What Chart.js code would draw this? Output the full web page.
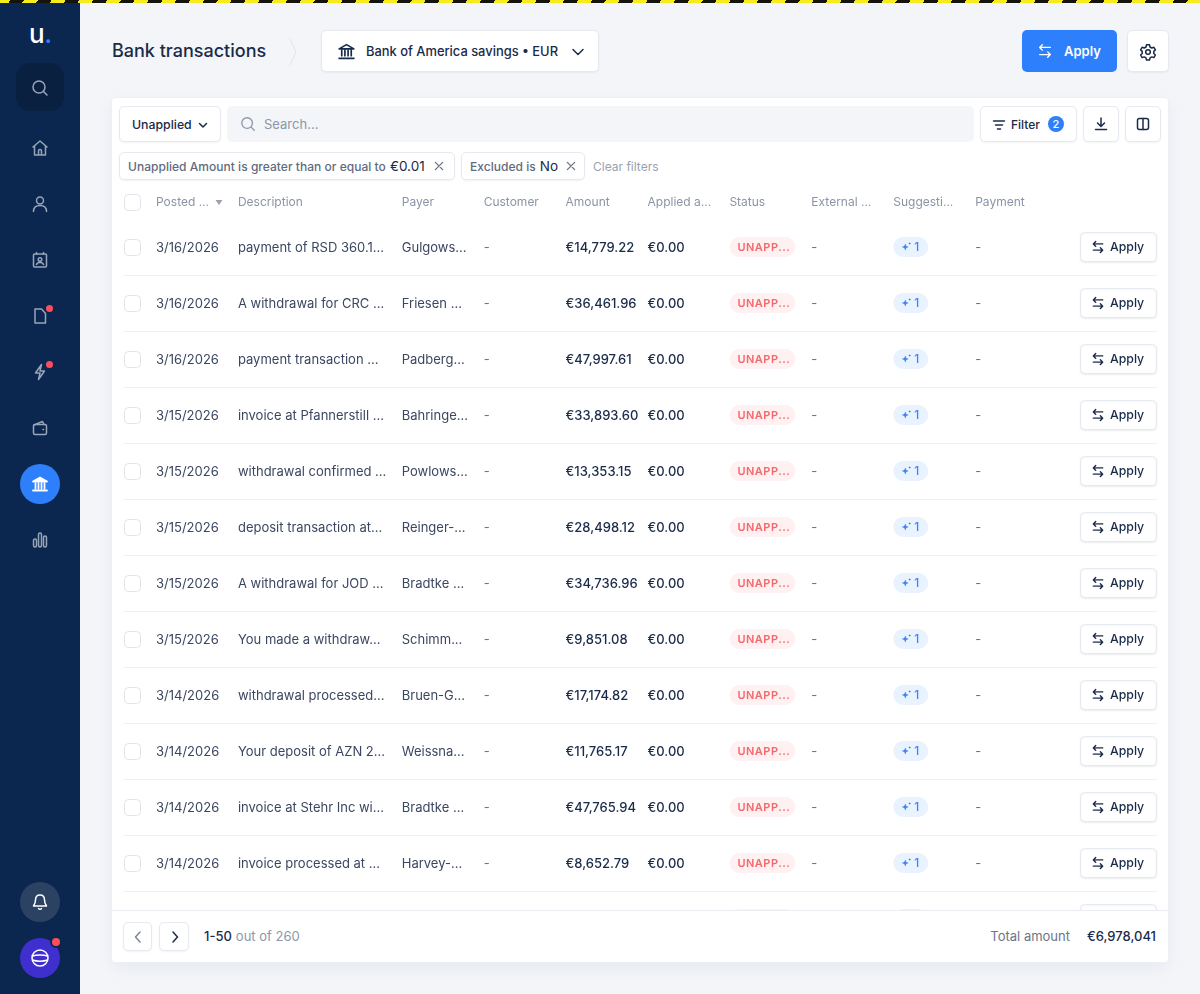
<!DOCTYPE html>
<html lang="en">
<head>
<meta charset="utf-8">
<title>Bank transactions</title>
<script src="https://cdn.jsdelivr.net/npm/chart.js@4"></script>
<style>
  * { box-sizing: border-box; }
  html, body { margin: 0; height: 994px; overflow: hidden; }
  body { width: 1200px; position: relative; background: #f3f5f9; font: 13px Inter, sans-serif; color: #1a2b4a; }
  .abs { position: absolute; }
  .row { display: flex; align-items: center; white-space: nowrap; }
  .box { background: #fff; border: 1px solid #e6e9ef; border-radius: 5px; box-shadow: 0 1px 2px rgba(26,43,74,.06); }
  svg { display: block; fill: none; stroke: currentColor; stroke-width: 1.5; stroke-linecap: round; stroke-linejoin: round; }
  #stripe { left: 0; top: 0; width: 1200px; height: 3px; z-index: 5;
    background: repeating-linear-gradient(-60deg, #f6ec1c 0 12px, #14130c 12px 24px); }
  #side { left: 0; top: 0; width: 80px; height: 994px; background: #0b274f; color: #98a5b9; }
  .ico { position: absolute; left: 31px; width: 18px; height: 18px; }
  .dot { position: absolute; width: 7px; height: 7px; border-radius: 50%; background: #ff4d5a; }
  #card { left: 112px; top: 98px; width: 1056px; height: 864px; background: #fff; border-radius: 4px;
    box-shadow: 0 0 0 1px #eceff4, 0 6px 16px rgba(26,43,74,.06); overflow: hidden; }
  #grid { position: absolute; left: 0; top: 88px; }
  #foot { left: 0; top: 812px; width: 1056px; height: 52px; background: #fff; border-top: 1px solid #e9ecf1; }
  .chip { color: #5f6b80; font-size: 12px; font-weight: 500; height: 28px; padding-left: 8px; letter-spacing: .03px; }
  .chip b { font-weight: 400; font-size: 13.500px; color: #1a2b4a; margin-left: 4px; }
</style>
</head>
<body>
<div id="stripe" class="abs"></div>

<div id="side" class="abs">
  <div class="abs" style="left:29px;top:18px;font-size:26px;font-weight:500;color:#fff;line-height:32px;letter-spacing:-.5px">u<span style="color:#2e7ffb">.</span></div>
  <div class="abs" style="left:16px;top:63px;width:48px;height:48px;border-radius:14px;background:#0a2040"></div>
  <svg class="ico" style="top:79px" viewBox="0 0 18 18"><circle cx="8" cy="8" r="6"/><path d="M12.5 12.5 16 16"/></svg>
  <svg class="ico" style="top:139px" viewBox="0 0 18 18"><path d="M2 8 9 2l7 6M3.500 7v9h11V7M7.500 16v-4a1.500 1.500 0 0 1 3 0v4"/></svg>
  <svg class="ico" style="top:195px" viewBox="0 0 18 18"><circle cx="9" cy="5.500" r="3.500"/><path d="M2.500 16.500c0-4 2.500-6 6.500-6s6.500 2 6.500 6"/></svg>
  <svg class="ico" style="top:251px" viewBox="0 0 18 18"><rect x="2.500" y="3" width="13" height="13" rx="1"/><circle cx="9" cy="8.500" r="1.800"/><path d="M5.500 13.500c.5-1.500 2-2 3.500-2s3 .5 3.500 2M5.500 1.500V3M12.500 1.500V3"/></svg>
  <svg class="ico" style="top:307px" viewBox="0 0 18 18"><path d="M4 2h6.500L14.500 6.500V16H4z"/></svg>
  <div class="dot" style="left:46px;top:305px"></div>
  <svg class="ico" style="top:363px" viewBox="0 0 18 18"><path d="M10.500 1.500 4.500 10H9l-1.500 6.500L13.500 8H9z"/></svg>
  <div class="dot" style="left:46px;top:361px"></div>
  <svg class="ico" style="top:419px" viewBox="0 0 18 18"><rect x="2.500" y="5.500" width="13" height="10" rx="1.500"/><path d="M3 6 11.500 2.500 13 5.500M12 10.500h.5"/></svg>
  <div class="abs" style="left:20px;top:464px;width:40px;height:40px;border-radius:50%;background:#2e7ffb"></div>
  <svg class="ico" style="top:475px;color:#fff;stroke-width:1.800" viewBox="0 0 18 18"><path d="M2 6.500 9 2.500 16 6.500zM4.500 8.500v5M7.500 8.500v5M10.500 8.500v5M13.500 8.500v5M2 15.500h14" fill="#fff"/></svg>
  <svg class="ico" style="top:531px" viewBox="0 0 18 18"><rect x="2.500" y="8" width="3" height="8" rx="1.500"/><rect x="7.500" y="2" width="3" height="14" rx="1.500"/><rect x="12.500" y="5" width="3" height="11" rx="1.500"/></svg>
  <div class="abs" style="left:20px;top:882px;width:40px;height:40px;border-radius:50%;background:#2b4263"></div>
  <svg class="ico" style="top:893px;color:#fff" viewBox="0 0 18 18"><path d="M9 2c-3 0-4.500 2-4.500 5 0 3-1 4.500-2 6h13c-1-1.500-2-3-2-6 0-3-1.500-5-4.500-5zM7.500 15.500c.5 1 2.500 1 3 0"/></svg>
  <div class="abs" style="left:20px;top:938px;width:40px;height:40px;border-radius:50%;background:#3f2fcf"></div>
  <svg class="ico" style="top:949px;color:#fff" viewBox="0 0 18 18"><circle cx="9" cy="9" r="8"/><path d="M1.500 7c4-1.500 11-1.500 15 0M1.500 11c4 1.500 11 1.500 15 0"/></svg>
  <div class="abs" style="left:50px;top:936px;width:12px;height:12px;border-radius:50%;background:#ff4d5a;border:2px solid #0b274f"></div>
</div>

<div class="abs" style="left:112px;top:38px;font-size:18px;font-weight:500;line-height:26px">Bank transactions</div>
<svg class="abs" style="left:288px;top:38px;color:#e1e5eb;stroke-width:1" width="10" height="28" viewBox="0 0 10 28"><path d="M2 1 8 14 2 27"/></svg>
<div class="abs box row" style="left:321px;top:30px;width:278px;height:42px;font-weight:500;font-size:12.900px">
  <svg class="abs" style="left:15px;top:11px;stroke-width:1.600" width="19" height="19" viewBox="0 0 18 18"><path d="M2 6.500 9 2.500 16 6.500zM4.500 8v5M7.500 8v5M10.500 8v5M13.500 8v5M2 15.500h14"/></svg>
  <span class="abs" style="left:44px">Bank of America savings • EUR</span>
  <svg class="abs" style="left:249px;top:14px" width="14" height="14" viewBox="0 0 14 14"><path d="M2 4.500 7 9.500 12 4.500"/></svg>
</div>
<div class="abs row" style="left:1022px;top:30px;width:95px;height:42px;border-radius:5px;background:#2e7ffb;color:#fff;font-size:13px;font-weight:600">
  <svg class="abs" style="left:15px;top:13px" width="16" height="16" viewBox="0 0 18 18"><path d="M3 5h12M3 5l3-3M3 5l3 3M15 13H3M15 13l-3-3M15 13l-3 3"/></svg>
  <span class="abs" style="left:42px">Apply</span>
</div>
<div class="abs box" style="left:1127px;top:30px;width:42px;height:42px">
  <svg class="abs" style="left:11px;top:12px" width="18" height="18" viewBox="0 0 18 18"><circle cx="9" cy="9" r="2.300"/><path d="M7.500 1.800h3l.5 2.200 1.800 1 2.100-.7 1.500 2.600-1.600 1.500v2.100l1.600 1.500-1.500 2.600-2.100-.7-1.800 1-.5 2.200h-3l-.5-2.200-1.800-1-2.100.7-1.500-2.600 1.600-1.500V8.400L1.600 6.900l1.500-2.600 2.100.7 1.800-1z"/></svg>
</div>

<div id="card" class="abs">
  <canvas id="grid" width="1056" height="761"></canvas>

  <div class="abs box row" style="left:7px;top:8px;width:102px;height:36px;font-weight:500;font-size:12.300px"><span class="abs" style="left:12px">Unapplied</span>
    <svg class="abs" style="left:77px;top:12px" width="12" height="12" viewBox="0 0 12 12"><path d="M2.500 4.500 6 8l3.500-3.500"/></svg></div>
  <div class="abs row" style="left:115px;top:8px;width:747px;height:36px;border-radius:5px;background:#f3f5f9;color:#8e97a8">
    <svg class="abs" style="left:13px;top:10px" width="16" height="16" viewBox="0 0 18 18"><circle cx="8" cy="8" r="6"/><path d="M12.500 12.500 16 16"/></svg>
    <span class="abs" style="left:37px">Search...</span></div>
  <div class="abs box row" style="left:868px;top:8px;width:97px;height:36px;font-weight:500;font-size:12px">
    <svg class="abs" style="left:11px;top:11px" width="14" height="14" viewBox="0 0 14 14"><path d="M1.500 3h11M3.500 7h7M5.500 11h3"/></svg>
    <span class="abs" style="left:30px">Filter</span>
    <span class="abs" style="left:67px;top:9px;width:16px;height:16px;border-radius:50%;background:#2e7ffb;color:#fff;font-size:11px;text-align:center;line-height:16px">2</span></div>
  <div class="abs box" style="left:971px;top:8px;width:36px;height:36px">
    <svg class="abs" style="left:10px;top:10px" width="14" height="14" viewBox="0 0 14 14"><path d="M7 1v8M3.500 6 7 9.500 10.500 6M1.500 12.500h11"/></svg></div>
  <div class="abs box" style="left:1013px;top:8px;width:36px;height:36px">
    <svg class="abs" style="left:10px;top:10px" width="14" height="14" viewBox="0 0 14 14"><rect x="1.500" y="1.500" width="11" height="11" rx="2"/><path d="M7 1.500v11"/></svg></div>

  <div class="abs box row chip" style="left:7px;top:54px;width:336px">Unapplied Amount is greater than or equal to<b>€0.01</b>
    <svg class="abs" style="left:314px;top:8px;color:#6b7587" width="10" height="10" viewBox="0 0 11 11"><path d="M1.500 1.500l8 8M9.500 1.500l-8 8"/></svg></div>
  <div class="abs box row chip" style="left:349px;top:54px;width:124px">Excluded is<b>No</b>
    <svg class="abs" style="left:104px;top:8px;color:#6b7587" width="10" height="10" viewBox="0 0 11 11"><path d="M1.500 1.500l8 8M9.500 1.500l-8 8"/></svg></div>
  <div class="abs row" style="left:481px;top:54px;height:28px;font-size:12px;color:#9aa2b1">Clear filters</div>

  <div id="foot" class="abs">
    <div class="abs box" style="left:11px;top:11px;width:29px;height:29px;color:#7d879a">
      <svg class="abs" style="left:7px;top:7px" width="14" height="14" viewBox="0 0 14 14"><path d="M9 2 4.500 7 9 12"/></svg></div>
    <div class="abs box" style="left:47px;top:11px;width:30px;height:29px">
      <svg class="abs" style="left:8px;top:7px" width="14" height="14" viewBox="0 0 14 14"><path d="M5 2 9.500 7 5 12"/></svg></div>
    <div class="abs row" style="left:92px;top:15px;height:20px;font-weight:500">1-50<span style="color:#8e97a8;font-weight:400;margin-left:4px">out of 260</span></div>
    <div class="abs row" style="right:12px;top:15px;height:20px;color:#6b7587">Total amount<span style="color:#1a2b4a;font-weight:500;margin-left:17px">€6,978,041</span></div>
  </div>
</div>

<script>
// tabela como grade de categorias: colunas no x, linhas no y
const COLUMNS = ['Posted ...', 'Description', '', 'Payer', 'Customer', 'Amount', 'Applied a...', 'Status', 'External ...', 'Suggesti...', 'Payment', ' ', 'Actions'];
const ROW_IDS = ['r1', 'r2', 'r3', 'r4', 'r5', 'r6', 'r7', 'r8', 'r9', 'r10', 'r11', 'r12', 'r13'];

const dates = ['3/16/2026', '3/16/2026', '3/16/2026', '3/15/2026', '3/15/2026', '3/15/2026', '3/15/2026', '3/15/2026', '3/14/2026', '3/14/2026', '3/14/2026', '3/14/2026'];
const descriptions = ['payment of RSD 360.1...', 'A withdrawal for CRC ...', 'payment transaction ...', 'invoice at Pfannerstill ...', 'withdrawal confirmed ...', 'deposit transaction at...', 'A withdrawal for JOD ...', 'You made a withdraw...', 'withdrawal processed...', 'Your deposit of AZN 2...', 'invoice at Stehr Inc wi...', 'invoice processed at ...'];
const payers = ['Gulgows...', 'Friesen ...', 'Padberg...', 'Bahringe...', 'Powlows...', 'Reinger-...', 'Bradtke ...', 'Schimm...', 'Bruen-G...', 'Weissna...', 'Bradtke ...', 'Harvey-...'];
const customers = ['-', '-', '-', '-', '-', '-', '-', '-', '-', '-', '-', '-'];
const amounts = ['€14,779.22', '€36,461.96', '€47,997.61', '€33,893.60', '€13,353.15', '€28,498.12', '€34,736.96', '€9,851.08', '€17,174.82', '€11,765.17', '€47,765.94', '€8,652.79'];
const applied = ['€0.00', '€0.00', '€0.00', '€0.00', '€0.00', '€0.00', '€0.00', '€0.00', '€0.00', '€0.00', '€0.00', '€0.00'];
const statuses = ['UNAPP...', 'UNAPP...', 'UNAPP...', 'UNAPP...', 'UNAPP...', 'UNAPP...', 'UNAPP...', 'UNAPP...', 'UNAPP...', 'UNAPP...', 'UNAPP...', 'UNAPP...', 'UNAPP...'];
const externals = ['-', '-', '-', '-', '-', '-', '-', '-', '-', '-', '-', '-'];
const suggestions = ['1', '1', '1', '1', '1', '1', '1', '1', '1', '1', '1', '1', '1'];
const payments = ['-', '-', '-', '-', '-', '-', '-', '-', '-', '-', '-', '-'];
const actions = ['Apply', 'Apply', 'Apply', 'Apply', 'Apply', 'Apply', 'Apply', 'Apply', 'Apply', 'Apply', 'Apply', 'Apply', 'Apply'];

const INK = '#1a2b4a';
const BODY = '#3b4760';
const swapIcon = new Path2D('M3 5h12M3 5l3-3M3 5l3 3M15 13H3M15 13l-3-3M15 13l-3 3');
const sparkIcon = new Path2D('M5 2.500 6 5 8.500 6 6 7 5 9.500 4 7 1.500 6 4 5zM9.500 1l.4 1.100 1.100.4-1.100.4-.4 1.100-.4-1.100L8 2.500l1.100-.4z');

function column(name, values, kind) {
  return {
    label: name,
    kind,
    pointRadius: 0,
    data: values.map((text, i) => ({ x: name, y: ROW_IDS[i], text })),
  };
}

function roundBox(ctx, x, y, w, h, r, fill, stroke) {
  ctx.beginPath();
  ctx.roundRect(x, y, w, h, r);
  if (fill) { ctx.fillStyle = fill; ctx.fill(); }
  if (stroke) { ctx.strokeStyle = stroke; ctx.lineWidth = 1; ctx.stroke(); }
}

function label(ctx, text, x, y, font, color) {
  ctx.font = font;
  ctx.fillStyle = color;
  ctx.textAlign = 'left';
  ctx.textBaseline = 'middle';
  ctx.fillText(text, x, y);
}

const CELL = {
  date(ctx, p) {
    roundBox(ctx, p.x - 31.500, p.y - 7.500, 16, 16, 4, '#fff', '#e0e4ea');
    label(ctx, p.text, p.x, p.y + 1, '13px Inter', BODY);
  },
  text(ctx, p) { label(ctx, p.text, p.x, p.y + 1, '13px Inter', BODY); },
  dash(ctx, p) { label(ctx, p.text, p.x, p.y + 1, '13px Inter', '#6b7587'); },
  money(ctx, p) { label(ctx, p.text, p.x, p.y + 1, '500 13px Inter', INK); },
  status(ctx, p) {
    roundBox(ctx, p.x, p.y - 10, 66, 20, 10, '#fff1f1');
    ctx.letterSpacing = '0.5px';
    label(ctx, p.text, p.x + 8, p.y + 0.5, '600 11px Inter', '#f4686c');
    ctx.letterSpacing = '0px';
  },
  suggestion(ctx, p) {
    roundBox(ctx, p.x, p.y - 10, 35, 20, 10, '#e9f2ff');
    ctx.save();
    ctx.translate(p.x + 7, p.y - 6);
    ctx.fillStyle = '#3d84f5';
    ctx.fill(sparkIcon);
    ctx.restore();
    label(ctx, p.text, p.x + 21, p.y + 0.5, '500 12px Inter', '#3d84f5');
  },
  button(ctx, p) {
    ctx.save();
    ctx.shadowColor = 'rgba(26,43,74,.07)';
    ctx.shadowBlur = 2;
    ctx.shadowOffsetY = 1;
    roundBox(ctx, p.x - 58.500, p.y - 14.500, 76, 29, 4, '#fff', '#e6e9ef');
    ctx.restore();
    ctx.save();
    ctx.translate(p.x - 48, p.y - 7);
    ctx.scale(0.78, 0.78);
    ctx.strokeStyle = INK;
    ctx.lineWidth = 1.800;
    ctx.lineCap = 'round';
    ctx.lineJoin = 'round';
    ctx.stroke(swapIcon);
    ctx.restore();
    label(ctx, p.text, p.x - 29, p.y, '500 12.300px Inter', INK);
  },
};

const cellPlugin = {
  id: 'cells',
  afterDatasetsDraw(chart) {
    const { ctx, scales: { x, y } } = chart;
    ctx.save();

    // separadores das linhas, da caixa de selecao ate o botao
    ctx.strokeStyle = '#eef0f4';
    ctx.lineWidth = 1;
    ROW_IDS.forEach((id) => {
      const yy = Math.round(y.getPixelForValue(id) + y.getPixelForValue(ROW_IDS[1]) / 2 - y.getPixelForValue(ROW_IDS[0]) / 2) + 0.5;
      ctx.beginPath();
      ctx.moveTo(x.left - 32, yy);
      ctx.lineTo(x.right + 18, yy);
      ctx.stroke();
    });

    // cabecalho: caixa e seta de ordenacao ao lado de Posted
    const hx = x.getPixelForValue(COLUMNS[0]);
    const hy = y.top - 17;
    roundBox(ctx, hx - 31.500, hy - 7.500, 16, 16, 4, '#fff', '#e0e4ea');
    ctx.fillStyle = '#9aa2b1';
    ctx.beginPath();
    ctx.moveTo(hx + 59.500, hy - 2);
    ctx.lineTo(hx + 66.500, hy - 2);
    ctx.lineTo(hx + 63, hy + 3);
    ctx.closePath();
    ctx.fill();

    chart.data.datasets.forEach((ds, i) => {
      chart.getDatasetMeta(i).data.forEach((el, j) => {
        CELL[ds.kind](ctx, { x: el.x, y: el.y, text: ds.data[j].text });
      });
    });
    ctx.restore();
  },
};

new Chart(document.getElementById('grid'), {
  type: 'scatter',
  data: {
    datasets: [
      column(COLUMNS[0], dates, 'date'),
      column(COLUMNS[1], descriptions, 'text'),
      column(COLUMNS[3], payers, 'text'),
      column(COLUMNS[4], customers, 'dash'),
      column(COLUMNS[5], amounts, 'money'),
      column(COLUMNS[6], applied, 'money'),
      column(COLUMNS[7], statuses, 'status'),
      column(COLUMNS[8], externals, 'dash'),
      column(COLUMNS[9], suggestions, 'suggestion'),
      column(COLUMNS[10], payments, 'dash'),
      column(COLUMNS[12], actions, 'button'),
    ],
  },
  options: {
    responsive: false,
    animation: false,
    layout: { padding: { right: 29 } },
    plugins: { legend: { display: false }, tooltip: { enabled: false } },
    events: [],
    scales: {
      x: {
        type: 'category',
        position: 'top',
        labels: COLUMNS,
        offset: false,
        afterFit: (s) => { s.height = 33; },
        border: { display: false },
        grid: { display: false, drawTicks: false },
        ticks: {
          autoSkip: false,
          maxRotation: 0,
          minRotation: 0,
          align: 'start',
          padding: 9,
          color: '#8b94a6',
          font: { family: 'Inter', size: 12 },
          callback(v) {
            const name = this.getLabelForValue(v);
            return name === 'Actions' ? '' : name;
          },
        },
      },
      y: {
        type: 'category',
        labels: ROW_IDS,
        offset: true,
        afterFit: (s) => { s.width = 44; },
        border: { display: false },
        grid: { display: false },
        ticks: { display: false },
      },
    },
  },
  plugins: [cellPlugin],
});
</script>
</body>
</html>
